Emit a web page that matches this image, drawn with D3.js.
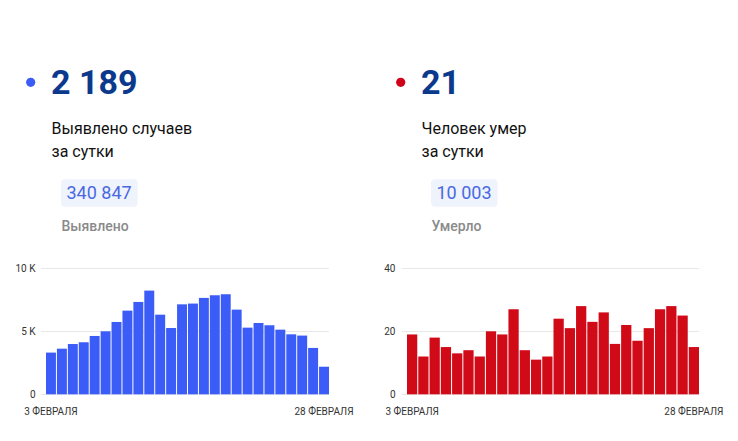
<!DOCTYPE html>
<html>
<head>
<meta charset="utf-8">
<script src="https://cdn.jsdelivr.net/npm/d3@7"></script>
<style>
  body { margin: 0; background: #fff; }
  svg { display: block; font-family: Roboto, "Noto Sans", sans-serif; }
</style>
</head>
<body>
<div id="chart"></div>
<script>
// data
const days = d3.range(3, 29).map(d => d + " ФЕВРАЛЯ");
const cases = [3310, 3620, 3990, 4130, 4630, 5000, 5740, 6640, 7330, 8230, 6320, 5260, 7140,
    7200, 7650, 7860, 7940, 6720, 5290, 5660, 5480, 5130, 4760, 4660, 3680, 2189];
const deaths = [19, 12, 18, 15, 13, 14, 12, 20, 19, 27, 14, 11, 12, 24, 21, 28, 23, 26, 16,
    22, 17, 21, 27, 28, 25, 15];
const casesTicks = [0, 5000, 10000];
const casesTickLabels = ["0", "5 K", "10 K"];
const deathsTicks = [0, 20, 40];
const deathsTickLabels = ["0", "20", "40"];

const panels = [
    {x0: 0, color: "#3b5cf7", dot: "#3b5cf7", big: "2 189", desc: ["Выявлено случаев", "за сутки"],
     total: "340 847", totalLabel: "Выявлено", data: cases, ticks: casesTicks, tickLabels: casesTickLabels,
     max: 10000, labelRight: 35.5, barLeft: 46, barRight: 329},
    {x0: 370, color: "#d10a18", dot: "#d0021b", big: "21", desc: ["Человек умер", "за сутки"],
     total: "10 003", totalLabel: "Умерло", data: deaths, ticks: deathsTicks, tickLabels: deathsTickLabels,
     max: 40, labelRight: 395.5, barLeft: 407, barRight: 699}
];

const svg = d3.select("#chart")
    .append("svg")
    .attr("width", 738)
    .attr("height", 441);

panels.forEach(function (p) {
    const g = svg.append("g");

    // header
    g.append("circle")
        .attr("cx", p.x0 + 30.7)
        .attr("cy", 82.3)
        .attr("r", 4.6)
        .attr("fill", p.dot);
    g.append("text")
        .attr("x", p.x0 + 51)
        .attr("y", 94.3)
        .attr("font-size", "34px")
        .attr("font-weight", 700)
        .attr("fill", "#0b398c")
        .text(p.big);
    p.desc.forEach(function (line, i) {
        g.append("text")
            .attr("x", p.x0 + 51.5)
            .attr("y", 133.5 + i * 23)
            .attr("font-size", "16px")
            .attr("fill", "#111")
            .text(line);
    });

    // total badge
    const badge = g.append("rect")
        .attr("x", p.x0 + 61)
        .attr("y", 179.3)
        .attr("height", 27.5)
        .attr("rx", 4)
        .attr("fill", "#eff3fb");
    const totalText = g.append("text")
        .attr("x", p.x0 + 66.5)
        .attr("y", 199)
        .attr("font-size", "18px")
        .attr("fill", "#4a68e4")
        .text(p.total);
    badge.attr("width", totalText.node().getComputedTextLength() + 11.5);
    g.append("text")
        .attr("x", p.x0 + 61.5)
        .attr("y", 231)
        .attr("font-size", "14px")
        .attr("font-weight", 500)
        .attr("fill", "#8a8a8a")
        .text(p.totalLabel);

    // bar chart
    const x = d3.scaleBand()
        .domain(days)
        .range([p.barLeft, p.barRight])
        .paddingInner(0.09);
    const y = d3.scaleLinear()
        .domain([0, p.max])
        .range([394.3, 268.3]);

    // grid lines
    g.selectAll("line.grid")
        .data(p.ticks)
        .enter()
        .append("line")
        .attr("class", "grid")
        .attr("x1", p.barLeft - 5)
        .attr("x2", p.barRight)
        .attr("y1", d => Math.round(y(d)) + 0.5)
        .attr("y2", d => Math.round(y(d)) + 0.5)
        .attr("stroke", "#e8e8e8");

    g.selectAll("text.ytick")
        .data(p.ticks)
        .enter()
        .append("text")
        .attr("class", "ytick")
        .attr("x", p.labelRight)
        .attr("y", d => y(d))
        .attr("dy", "0.35em")
        .attr("text-anchor", "end")
        .attr("font-size", "10px")
        .attr("fill", "#333")
        .text((d, i) => p.tickLabels[i]);

    g.selectAll("rect.bar")
        .data(p.data)
        .enter()
        .append("rect")
        .attr("class", "bar")
        .attr("x", (d, i) => x(days[i]))
        .attr("y", d => y(d))
        .attr("width", x.bandwidth())
        .attr("height", d => y(0) - y(d))
        .attr("fill", p.color);

    // first and last dates
    [days[0], days[days.length - 1]].forEach(function (day) {
        g.append("text")
            .attr("x", x(day) + x.bandwidth() / 2)
            .attr("y", 414.5)
            .attr("text-anchor", "middle")
            .attr("font-size", "10px")
            .attr("fill", "#333")
            .text(day);
    });
});
</script>
</body>
</html>
